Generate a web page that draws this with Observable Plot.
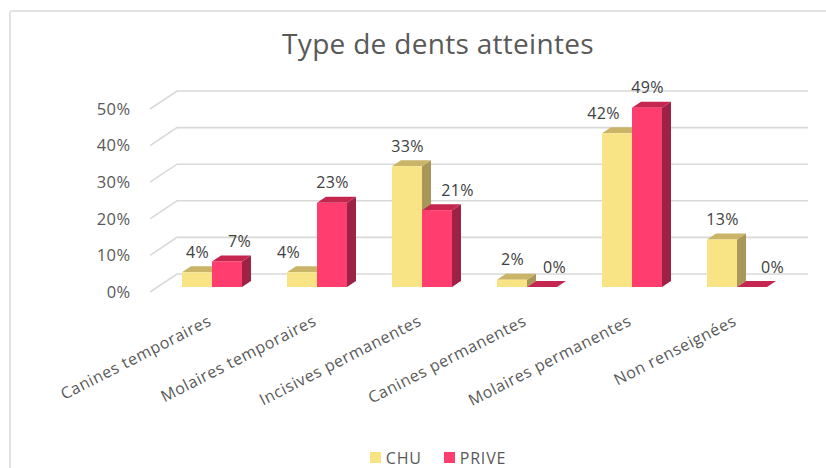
<!DOCTYPE html>
<html>
<head>
<meta charset="utf-8">
<script src="https://cdn.jsdelivr.net/npm/d3@7"></script>
<script src="https://cdn.jsdelivr.net/npm/@observablehq/plot@0.6"></script>
<style>
  html, body { margin: 0; padding: 0; background: #fff; }
  #wrap { position: relative; width: 826px; height: 468px; overflow: hidden; font-family: "Open Sans", sans-serif; }
  #frame { position: absolute; left: 9px; top: 10px; width: 900px; height: 600px; border: 2px solid #e2e2e2; border-radius: 3px; pointer-events: none; }
  #title { height: 70px; box-sizing: border-box; padding-top: 27px; line-height: 32px; text-align: center; font-size: 28px; letter-spacing: 0.3px; color: #595959; padding-left: 50px; }
  #legend { height: 28px; box-sizing: border-box; padding-top: 7px; padding-left: 50px; display: flex; justify-content: center; align-items: center; gap: 22px; font-size: 16px; color: #595959; line-height: 20px; letter-spacing: 0.8px; }
  #legend .item { display: flex; align-items: center; gap: 5px; }
  #legend .sw { width: 11px; height: 11px; display: inline-block; }
  #chart svg { display: block; }
</style>
</head>
<body>
<div id="wrap">
  <div id="frame"></div>
  <div id="title">Type de dents atteintes</div>
  <div id="chart"></div>
  <div id="legend"></div>
</div>
<script>
// ---- data ----
const categories = ["Canines temporaires", "Molaires temporaires", "Incisives permanentes", "Canines permanentes", "Molaires permanentes", "Non renseignées"];
const seriesNames = ["CHU", "PRIVE"];
const chuValues = [4, 4, 33, 2, 42, 13];
const priveValues = [7, 23, 21, 0, 49, 0];
const yTicks = [0, 10, 20, 30, 40, 50];

// ---- styles ----
const palette = {
  CHU:   {front: "#F8E484", top: "#C9B468", side: "#A89758"},
  PRIVE: {front: "#FF3D6E", top: "#C5264F", side: "#9E2246"}
};
const DX = 9, DY = -6; // 3D depth in pixels

const rows = categories.flatMap((cat, i) => [
  {cat, series: "CHU", value: chuValues[i], other: priveValues[i]},
  {cat, series: "PRIVE", value: priveValues[i], other: chuValues[i]}
]);

// label nudges to avoid overlaps (Excel-like)
function nudge(d) {
  if (d.series === "CHU") return d.other > d.value + 5 ? -14 : 0;
  if (d.other > d.value + 5) return 20;
  if (d.other >= d.value - 3) return 12;
  return 0;
}
rows.forEach(d => d.nudge = nudge(d));

// back wall gridlines (render through scales)
function gridMark(index, scales, values, dims) {
  const {y} = scales;
  const g = d3.create("svg:g").attr("fill", "none").attr("stroke", "#d9d9d9").attr("stroke-width", 1.6);
  const xf = dims.marginLeft - 8, xb = dims.marginLeft + 19, xe = dims.width - dims.marginRight + 18;
  for (const t of yTicks) {
    const yf = y(t) + 5, yb = y(t) - 13;
    g.append("path").attr("d", `M${xf},${yf}L${xb},${yb}L${xe},${yb}`);
  }
  return g.node();
}

function facesMark(series, rightHalf) {
  const col = palette[series];
  const data = rows.filter(d => d.series === series);
  return (index, scales) => {
    const {x, y} = scales;
    const bw = x.bandwidth ? x.bandwidth() : 60;
    const g = d3.create("svg:g");
    for (const d of data) {
      const x1 = x(d.cat) + (rightHalf ? bw / 2 : 0);
      const x2 = x1 + bw / 2;
      const yt = y(d.value), yb = y(0);
      g.append("polygon").attr("fill", col.side)
        .attr("points", [[x2, yt], [x2 + DX, yt + DY], [x2 + DX, yb + DY], [x2, yb]].join(" "));
      g.append("polygon").attr("fill", col.top)
        .attr("points", [[x1, yt], [x2, yt], [x2 + DX, yt + DY], [x1 + DX, yt + DY]].join(" "));
    }
    return g.node();
  };
}

const labelMarks = [];
for (const s of seriesNames) {
  const sub = rows.filter(d => d.series === s);
  const nudges = [...new Set(sub.map(d => d.nudge))];
  for (const n of nudges) {
    labelMarks.push(Plot.text(sub.filter(d => d.nudge === n), {
      x: "cat", y: "value", text: d => d.value + "%",
      dx: (s === "CHU" ? -15 : 15) + n, dy: -20,
      fontSize: 16, fill: "#404040"
    }));
  }
}

const chart = Plot.plot({
  width: 826,
  height: 370,
  marginLeft: 158,
  marginRight: 36,
  marginTop: 34,
  marginBottom: 153,
  style: {fontFamily: "Open Sans, sans-serif", background: "transparent", overflow: "visible"},
  x: {type: "band", domain: categories, paddingInner: 0.43, paddingOuter: 0.215, axis: null},
  y: {domain: [0, 50], axis: null},
  marks: [
    gridMark,
    facesMark("CHU", false),
    Plot.barY(rows.filter(d => d.series === "CHU"), {x: "cat", y: "value", fill: palette.CHU.front, insetRight: 30}),
    facesMark("PRIVE", true),
    Plot.barY(rows.filter(d => d.series === "PRIVE"), {x: "cat", y: "value", fill: palette.PRIVE.front, insetLeft: 30}),
    Plot.text(yTicks, {y: d => d, text: d => d + "%", frameAnchor: "left", dx: -28, dy: 5, textAnchor: "end", fontSize: 16.5, fill: "#595959"}),
    Plot.text(categories, {x: d => d, y: () => 0, text: d => d, rotate: -27, textAnchor: "end", lineAnchor: "bottom", dx: 0, dy: 37, fontSize: 16, fill: "#595959"}),
    ...labelMarks
  ]
});
// wider letter spacing on category labels, like the original
d3.select(chart).selectAll("text")
  .filter(function () { return categories.includes(this.textContent); })
  .style("letter-spacing", "0.6px");
d3.select(chart).selectAll("text")
  .filter(function () { return /^\d+%$/.test(this.textContent); })
  .style("letter-spacing", "0.4px");
document.getElementById("chart").append(chart);

const legend = document.getElementById("legend");
for (const s of seriesNames) {
  const item = document.createElement("div");
  item.className = "item";
  item.innerHTML = `<span class="sw" style="background:${palette[s].front}"></span><span>${s}</span>`;
  legend.append(item);
}
</script>
</body>
</html>
